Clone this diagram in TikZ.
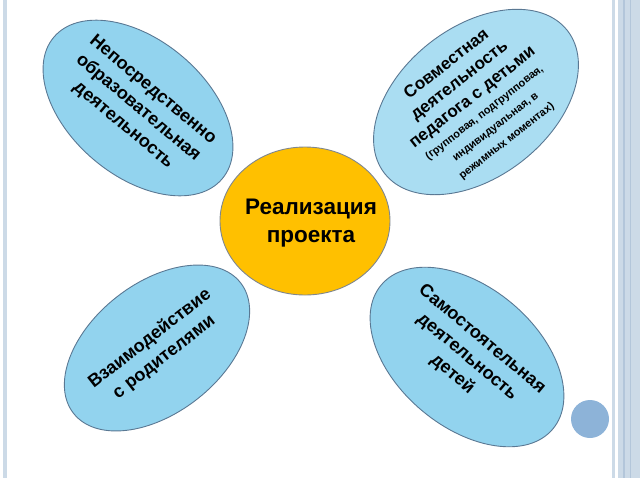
\documentclass[tikz,border=0pt]{standalone}
\usepackage{fontspec}
\setmainfont{Liberation Sans}
\usetikzlibrary{shapes.geometric}
\definecolor{petalblue}{HTML}{92D3EE}
\definecolor{petallight}{HTML}{AADDF2}
\definecolor{petalline}{HTML}{5A7893}
\definecolor{hubfill}{HTML}{FFC000}
\definecolor{hubline}{HTML}{7F8790}
\definecolor{stripe}{HTML}{CCDAE7}
\definecolor{stripedark}{HTML}{B3C6DA}
\definecolor{dotblue}{HTML}{8DB3D8}
\newcommand{\smalltxt}[1]{{\fontsize{11}{14}\selectfont #1}}
\tikzset{
  petal/.style={ellipse, draw=petalline, line width=0.9pt, fill=petalblue, inner sep=0pt},
  petaltext/.style={align=center, font=\bfseries\fontsize{18}{23}\selectfont, inner sep=0pt},
  hub/.style={ellipse, draw=hubline, line width=0.9pt, fill=hubfill, inner sep=0pt},
  hubtext/.style={align=center, font=\bfseries\fontsize{22.5}{28}\selectfont, inner sep=0pt}
}

\begin{document}
\begin{tikzpicture}[x=1pt,y=-1pt]
    \useasboundingbox (0,0) rectangle (640,480);

    % Page stripes and dot
    \fill[stripe] (3,0) rectangle (7,478);
    \fill[stripe] (612,0) rectangle (615,478);
    \fill[stripe] (618,0) rectangle (640,478);
    \fill[stripedark] (623,0) rectangle (625,478);
    \fill[stripedark] (630,0) rectangle (631,478);
    \node[circle, fill=dotblue, minimum size=38pt, inner sep=0pt] (dot) at (590,419) {};

    % Petals
    \node[petal, minimum width=220pt, minimum height=136pt, rotate=-40] (nod) at (138,108) {};
    \node[petaltext, rotate=-40] (nodtext) at (nod.center) {Непосредственно\\образовательная\\деятельность};

    \node[petal, fill=petallight, minimum width=232pt, minimum height=150pt, rotate=38] (joint) at (476,102) {};
    \node[petaltext, font=\bfseries\fontsize{17}{21}\selectfont, rotate=38] (jointtext) at (joint.center)
      {Совместная\\деятельность\\педагога с детьми\\[-3pt]\smalltxt{(групповая, подгрупповая,}\\[-3pt]\smalltxt{индивидуальная, в}\\[-3pt]\smalltxt{режимных моментах)}};

    \node[petal, minimum width=212pt, minimum height=130pt, rotate=38] (parents) at (157,348) {};
    \node[petaltext, rotate=38] (parentstext) at (parents.center) {Взаимодействие\\с родителями};

    \node[petal, minimum width=224pt, minimum height=140pt, rotate=-40] (self) at (467,357) {};
    \node[petaltext, rotate=-40] (selftext) at (self.center) {Самостоятельная\\деятельность\\детей};

    % Centre
    \node[hub, minimum width=170pt, minimum height=148pt] (project) at (305,221) {};
    \node[hubtext] (projecttext) at ([xshift=6pt,yshift=-2pt]project.center) {Реализация\\проекта};
\end{tikzpicture}
\end{document}
